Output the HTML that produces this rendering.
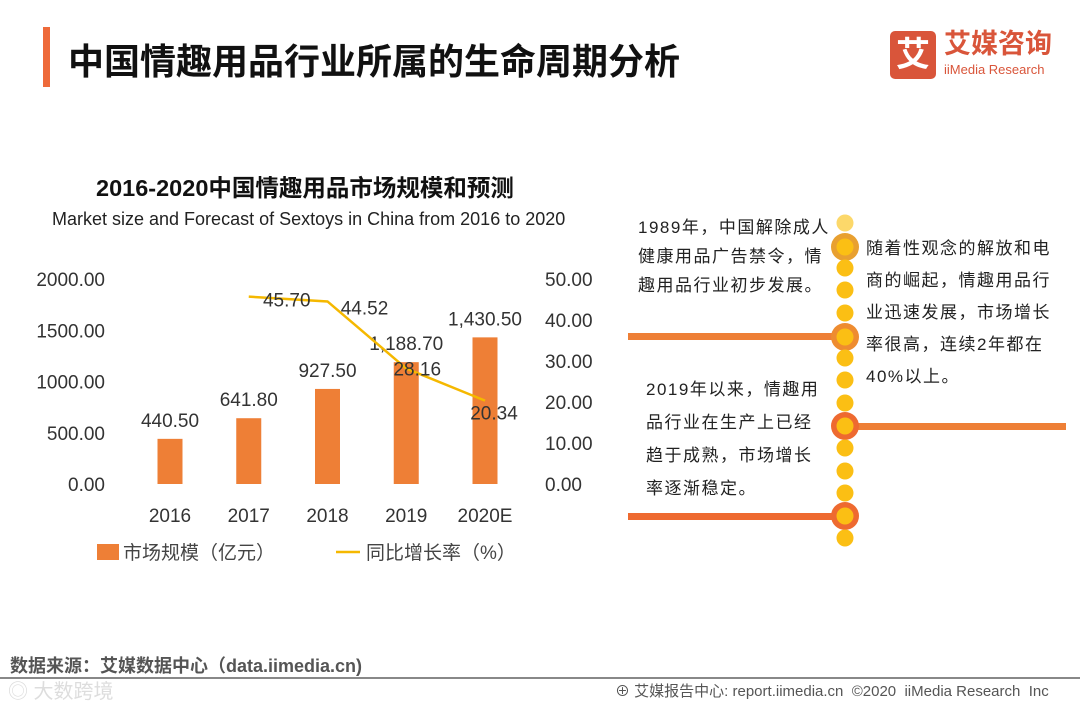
<!DOCTYPE html>
<html><head><meta charset="utf-8"><style>
body{margin:0;width:1080px;height:702px;background:#fff;position:relative;overflow:hidden;font-family:"Liberation Sans","Noto Sans CJK SC",sans-serif;}
.abs{position:absolute;}
.txt{font-size:17px;color:#222;white-space:nowrap;letter-spacing:1.5px}
</style></head><body>
<div class="abs" style="left:43px;top:27px;width:7px;height:60px;background:#ee6a3a"></div>
<div class="abs" style="left:68px;top:33px;font-size:36px;font-weight:bold;color:#111;white-space:nowrap">中国情趣用品行业所属的生命周期分析</div>
<div class="abs" style="left:890px;top:31px;width:46px;height:48px;background:#d9553a;border-radius:5px;color:#fff;font-size:34px;font-weight:bold;text-align:center;line-height:48px">艾</div>
<div class="abs" style="left:944px;top:28px;color:#d9553a;font-size:27px;font-weight:bold;line-height:32px">艾媒咨询</div>
<div class="abs" style="left:944px;top:62px;color:#d9553a;font-size:13px">iiMedia Research</div>

<div class="abs" style="left:96px;top:169px;font-size:23.5px;font-weight:bold;color:#111;white-space:nowrap">2016-2020中国情趣用品市场规模和预测</div>
<div class="abs" style="left:52px;top:209px;font-size:18px;color:#222;white-space:nowrap">Market size and Forecast of Sextoys in China from 2016 to 2020</div>

<svg class="abs" style="left:0;top:0" width="620" height="600" id="chart"></svg>

<div class="abs txt" style="left:638px;top:213px;line-height:29px">1989年，中国解除成人<br>健康用品广告禁令，情<br>趣用品行业初步发展。</div>
<div class="abs txt" style="left:866px;top:233px;line-height:32px">随着性观念的解放和电<br>商的崛起，情趣用品行<br>业迅速发展，市场增长<br>率很高，连续2年都在<br>40%以上。</div>
<div class="abs txt" style="left:646px;top:373px;line-height:33px">2019年以来，情趣用<br>品行业在生产上已经<br>趋于成熟，市场增长<br>率逐渐稳定。</div>

<svg class="abs" style="left:0;top:0" width="1080" height="702" id="timeline" pointer-events="none">
<rect x="628" y="333" width="216" height="7" fill="#ee7f36"/>
<rect x="848" y="423" width="218" height="7" fill="#ee7f36"/>
<rect x="628" y="513" width="216" height="7" fill="#ee6a30"/>
</svg>

<div class="abs" style="left:10px;top:652px;font-size:18px;font-weight:bold;color:#555;white-space:nowrap">数据来源：艾媒数据中心（data.iimedia.cn)</div>
<div class="abs" style="left:0;top:677px;width:1080px;height:2px;background:#888"></div>
<div class="abs" style="left:8px;top:675px;font-size:20px;color:#ddd">◎ 大数跨境</div>
<div class="abs" style="left:615px;top:680px;font-size:15px;color:#555;white-space:nowrap">⊕ 艾媒报告中心: report.iimedia.cn &nbsp;©2020 &nbsp;iiMedia Research &nbsp;Inc</div>

<script>
const categories=["2016","2017","2018","2019","2020E"];
const marketSize=[440.50,641.80,927.50,1188.70,1430.50];
const sizeLabels=["440.50","641.80","927.50","1,188.70","1,430.50"];
const growthRate=[null,45.70,44.52,28.16,20.34];
const leftTicks=[0,500,1000,1500,2000];
const rightTicks=[0,10,20,30,40,50];
const NS="http://www.w3.org/2000/svg";
const svg=document.getElementById('chart');
function yL(v){return 484-v*(205/2000);}
function yR(v){return 484-v*(205/50);}
function xC(i){return 170+i*78.75;}
function mk(tag,attrs,text){const e=document.createElementNS(NS,tag);for(const k in attrs)e.setAttribute(k,attrs[k]);if(text!==undefined)e.textContent=text;svg.appendChild(e);return e;}
leftTicks.forEach(v=>{const t=mk('text',{x:105,y:yL(v)+7,'text-anchor':'end','font-size':19,fill:'#333','font-family':'Liberation Sans'},v.toFixed(2));

});
rightTicks.forEach(v=>{const t=mk('text',{x:545,y:yR(v)+7,'font-size':19,fill:'#333','font-family':'Liberation Sans'},v.toFixed(2));

});
categories.forEach((c,i)=>{const t=mk('text',{x:xC(i),y:522,'text-anchor':'middle','font-size':19,fill:'#333','font-family':'Liberation Sans'},c);

});
marketSize.forEach((v,i)=>{const r=mk('rect',{x:xC(i)-12.5,y:yL(v),width:25,height:484-yL(v),fill:'#ee7f36'});


const t=mk('text',{x:xC(i),y:yL(v)-12,'text-anchor':'middle','font-size':19,fill:'#333','font-family':'Liberation Sans'},sizeLabels[i]);

});
let pts=[];growthRate.forEach((v,i)=>{if(v!==null)pts.push(xC(i)+','+yR(v));});
const pl=mk('polyline',{points:pts.join(' '),fill:'none',stroke:'#f5b800','stroke-width':2.5});


const lblDx=[0,38,37,11,9];
const lblDy=[0,10,13,7,19];
growthRate.forEach((v,i)=>{if(v===null)return;const t=mk('text',{x:xC(i)+lblDx[i],y:yR(v)+lblDy[i],'text-anchor':'middle','font-size':19,fill:'#333','font-family':'Liberation Sans'},v.toFixed(2));

});
const lb=mk('rect',{x:97,y:544,width:22,height:16,fill:'#ee7f36'});


const lt=mk('text',{x:123,y:559,'font-size':19,fill:'#444','font-family':'Liberation Sans, Noto Sans CJK SC'},'市场规模（亿元）');


const ll=mk('line',{x1:336,y1:552,x2:360,y2:552,stroke:'#f5b800','stroke-width':2.5});


const lt2=mk('text',{x:366,y:559,'font-size':19,fill:'#444','font-family':'Liberation Sans, Noto Sans CJK SC'},'同比增长率（%）');



const tl=document.getElementById('timeline');
const dots=[223,247,268,290,313,337,358,380,403,426,448,471,493,516,538];
const big={247:'#e8a030',337:'#ee8c30',426:'#ee6a30',516:'#ee6a30'};
dots.forEach(y=>{
if(big[y]){const c=document.createElementNS(NS,'circle');c.setAttribute('cx',845);c.setAttribute('cy',y);c.setAttribute('r',14);c.setAttribute('fill',big[y]);tl.appendChild(c);

}
const d=document.createElementNS(NS,'circle');d.setAttribute('cx',845);d.setAttribute('cy',y);d.setAttribute('r',8.5);d.setAttribute('fill',y===223?'#fcd86a':'#fbbf14');tl.appendChild(d);

});
</script>
</body></html>
